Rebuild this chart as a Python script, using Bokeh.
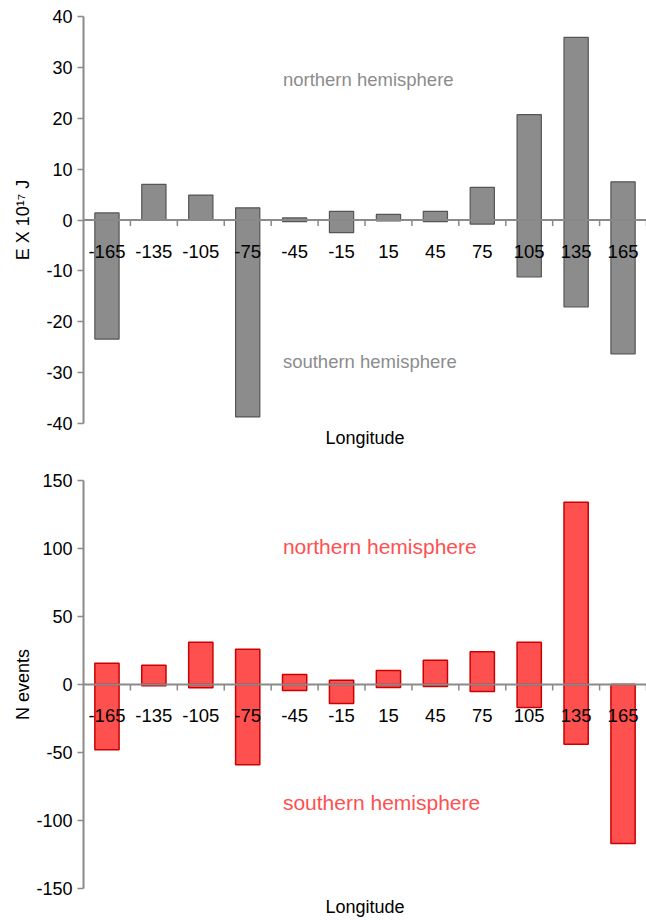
from bokeh.plotting import figure
from bokeh.models import Span, FixedTicker, ColumnDataSource, PrintfTickFormatter
from bokeh.layouts import column
from bokeh.embed import file_html
from bokeh.resources import INLINE
from bokeh.core.properties import value

# ---- data ----
longitudes = [-165, -135, -105, -75, -45, -15, 15, 45, 75, 105, 135, 165]
lon_labels = ["-165", "-135", "-105", "-75", "-45", "-15", "15", "45", "75", "105", "135", "165"]
boundaries = [-150, -120, -90, -60, -30, 0, 30, 60, 90, 120, 150, 180]

energy_north = [1.4, 7.0, 4.9, 2.4, 0.4, 1.7, 1.1, 1.7, 6.4, 20.7, 35.9, 7.5]
energy_south = [-23.4, -0.1, -0.1, -38.7, -0.3, -2.5, -0.2, -0.3, -0.8, -11.2, -17.1, -26.3]

events_north = [15.7, 14.2, 31.1, 26.0, 7.4, 3.2, 10.3, 17.9, 24.0, 31.0, 134.0, 0.0]
events_south = [-48.0, -1.0, -2.4, -59.0, -4.4, -14.0, -2.2, -1.5, -5.1, -17.0, -44.0, -117.0]

energy_ticks = [-40, -30, -20, -10, 0, 10, 20, 30, 40]
events_ticks = [-150, -100, -50, 0, 50, 100, 150]

FONT = "Liberation Sans"


def make_panel(north, south, yticks, ylabel, fill, line, note_color, note_size,
               note_y_n, note_y_s, tick_len, border_top, border_bottom,
               ylabel_standoff, xlabel_standoff, line_w):
    p = figure(width=646, height=460, x_range=(-180, 180),
               y_range=(yticks[0], yticks[-1]),
               output_backend="svg", toolbar_location=None,
               min_border_left=83, min_border_right=0,
               min_border_top=border_top, min_border_bottom=border_bottom)
    p.outline_line_color = None
    p.xgrid.visible = False
    p.ygrid.visible = False
    p.background_fill_color = "white"

    src = ColumnDataSource(dict(x=longitudes, n=north, s=south, lab=lon_labels))
    p.vbar(x="x", bottom=0, top="n", width=15.5, source=src,
           fill_color=fill, line_color=line, line_width=line_w)
    p.vbar(x="x", bottom="s", top=0, width=15.5, source=src,
           fill_color=fill, line_color=line, line_width=line_w)

    # zero line
    p.add_layout(Span(location=0, dimension="width", line_color="#8a8a8a",
                      line_width=2, level="overlay"))
    # category separator ticks on zero line
    p.segment(x0=boundaries, x1=boundaries, y0=[0] * len(boundaries),
              y1=[-tick_len] * len(boundaries), line_color="#8a8a8a", line_width=1.5,
              level="overlay")
    # category labels
    p.text(x="x", y=0, text="lab", source=src, text_align="center",
           text_baseline="middle", y_offset=31, text_font=value(FONT),
           text_font_size="18.5px", text_color="black", level="overlay")

    # annotations
    p.text(x=[-52.5, -52.5], y=[note_y_n, note_y_s],
           text=["northern hemisphere", "southern hemisphere"],
           text_align="left", text_baseline="middle", text_font=value(FONT),
           text_font_size=note_size, text_color=note_color)

    # y axis
    ya = p.yaxis[0]
    ya.ticker = FixedTicker(ticks=yticks)
    ya.formatter = PrintfTickFormatter(format="%d")
    ya.minor_tick_line_color = None
    ya.axis_line_color = "#8a8a8a"
    ya.axis_line_width = 2
    ya.major_tick_line_color = "#8a8a8a"
    ya.major_tick_line_width = 1.5
    ya.major_tick_in = 0
    ya.major_tick_out = 6
    ya.major_label_standoff = 5
    ya.major_label_text_font = FONT
    ya.major_label_text_font_size = "18px"
    ya.major_label_text_color = "black"
    ya.axis_label = ylabel
    ya.axis_label_text_font = FONT
    ya.axis_label_text_font_size = "18px"
    ya.axis_label_text_font_style = "normal"
    ya.axis_label_text_color = "black"
    ya.axis_label_standoff = ylabel_standoff

    # x axis (label only)
    xa = p.xaxis[0]
    xa.ticker = FixedTicker(ticks=[])
    xa.axis_line_color = None
    xa.major_tick_line_color = None
    xa.minor_tick_line_color = None
    xa.major_tick_out = 0
    xa.major_tick_in = 0
    xa.axis_label = "Longitude"
    xa.axis_label_text_font = FONT
    xa.axis_label_text_font_size = "18px"
    xa.axis_label_text_font_style = "normal"
    xa.axis_label_text_color = "black"
    xa.axis_label_standoff = xlabel_standoff
    return p


p1 = make_panel(energy_north, energy_south, energy_ticks, "E X 10\u00b9\u2077 J",
                "#8c8c8c", "#555555", "#8c8c8c", "18.5px", 27.6, -27.8, 1.2,
                16, 37, 10, 4, 1.2)
p2 = make_panel(events_north, events_south, events_ticks, "N events",
                "#ff5050", "#cc0000", "#ff5050", "21px", 101.5, -86.8, 4.4,
                20, 32, 0, 8, 1.5)

layout = column(p1, p2, spacing=0)
open("out.html", "w").write(file_html(layout, INLINE))
